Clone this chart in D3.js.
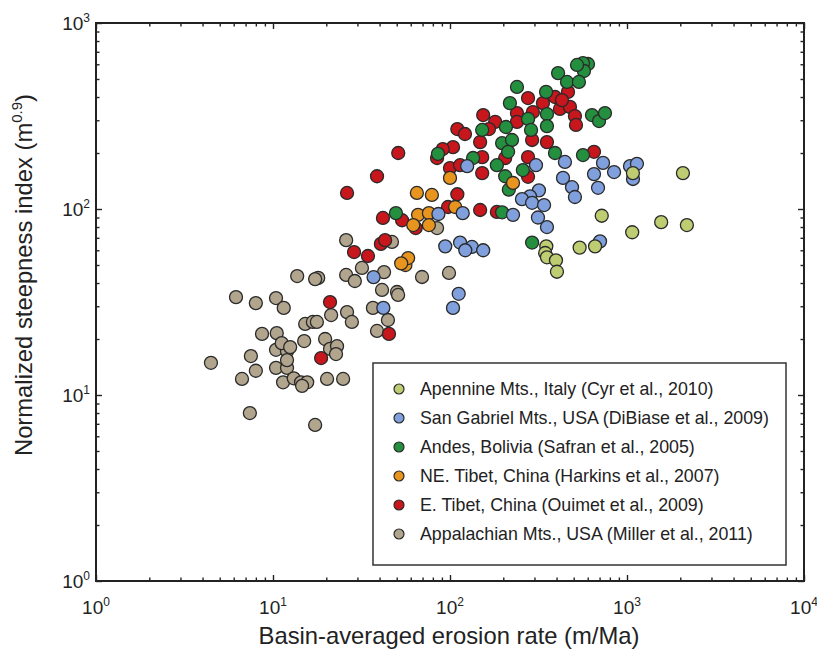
<!DOCTYPE html>
<html>
<head>
<meta charset="utf-8">
<script src="https://cdn.jsdelivr.net/npm/d3@7"></script>
<style>
  body { margin: 0; background: #fff; }
  svg { display: block; font-family: "Liberation Sans", Arial, sans-serif; }
</style>
</head>
<body>
<svg id="chart" width="817" height="651"></svg>
<script>
// Basin-averaged erosion rate (m/Ma) vs normalized steepness index (m^0.9)
const apennine = [
  [1080,156],[2070,156],[720,92],[1070,75],[1560,85],[2180,82],[350,63],
  [540,62],[660,63],[345,58],[353,55],[397,53],[402,46]
];
const sanGabriel = [
  [446,179],[732,177],[651,154],[845,158],[686,130],[435,147],[489,131],
  [508,116],[1040,170],[1138,175],[1081,145],[318,126],[283,117],[255,113],
  [291,108],[340,105],[227,93],[314,90],[353,80],[306,172],[125,170],
  [704,67],[86,94],[118,95],[94,63],[114,66],[133,62.5],[154,60],[122,60],
  [112,35],[104,29.4],[37,43],[42,29.4]
];
const andes = [
  [602,602],[564,609],[571,552],[522,595],[408,538],[458,482],[535,482],
  [349,426],[239,453],[218,371],[353,324],[276,305],[353,279],[207,276],
  [152,266],[287,266],[197,226],[224,235],[213,203],[392,200],[564,195],
  [634,320],[695,297],[751,328],[135,188],[85.5,198],[184,172],[205,150],
  [258,162],[215,127],[197,96],[291,66],[49.5,95]
];
const neTibet = [
  [65,122],[79,119],[100,147],[66,93],[76,95],[62,82],[76,82],[107,102.5],
  [56,50],[58,54.5],[53,51],[227,138]
];
const eTibet = [
  [51,200],[38.7,150],[26.2,122],[41.8,89.5],[53.6,87],[40.7,64.9],[43,68],
  [28.7,58.7],[34.4,55.9],[21,31.6],[45.2,21.3],[18.7,15.8],[110,120],
  [97.5,102.5],[148,98.8],[184,96.4],[104,215],[91,210],[84.5,188],[152,156],
  [152,190],[100,166],[114,172],[154,320],[110,269],[121.5,253],[276,395],
  [239,328],[180,294],[166,269],[239,294],[148,229],[294,332],[335,371],
  [392,400],[464,426],[418,345],[476,354],[508,316],[515,283],[291,235],
  [353,229],[276,190],[205,188],[651,203],[276,149],[429,385],[64,79]
];
const appalachian = [
  [25.9,68],[47,66.5],[13.7,43.6],[18,42.6],[17.3,42],[25.9,44.2],[29,41],
  [31.8,48.2],[42.4,45.8],[6.18,33.6],[8.0,31.2],[10.4,33.2],[11.5,29.4],
  [41.3,36.7],[50.2,35.8],[50.9,34.5],[36.7,29.4],[21.3,26.9],[26.2,27.9],
  [27.9,24.7],[15.2,24.1],[16.8,24.7],[17.7,24.7],[44.6,25.3],[38.7,22.1],
  [8.67,21.3],[10.5,21.5],[15.0,19.5],[19.7,20.0],[10.4,17.5],[12.0,17.2],
  [11.2,19.0],[12.5,18.1],[21,17.7],[23,18.3],[22.7,16.6],[7.5,16.2],
  [4.46,14.9],[8.0,13.5],[10.4,14.0],[12.0,14.0],[6.68,12.2],[11.4,11.7],
  [13.1,12.3],[14.4,11.7],[15.6,11.7],[14.6,11.2],[20.2,12.2],[24.9,12.2],
  [7.4,8.0],[17.3,6.9],[12.0,15.4],[84.5,79],[98.7,45.3],[69.5,43.1]
];

const legendNames = [
  "Apennine Mts., Italy (Cyr et al., 2010)",
  "San Gabriel Mts., USA (DiBiase et al., 2009)",
  "Andes, Bolivia (Safran et al., 2005)",
  "NE. Tibet, China (Harkins et al., 2007)",
  "E. Tibet, China (Ouimet et al., 2009)",
  "Appalachian Mts., USA (Miller et al., 2011)"
];
const legendData = [apennine, sanGabriel, andes, neTibet, eTibet, appalachian];
const colors = ["#bfcd72", "#7f9fdd", "#24903f", "#e8951f", "#c8161d", "#b2a58e"];
// drawing order (index into legend lists), back to front
const drawOrder = [5, 4, 2, 3, 1, 0];

const xMajor = [1, 10, 100, 1000, 10000];
const yMajor = [1, 10, 100, 1000];
const xTitle = "Basin-averaged erosion rate (m/Ma)";

const svg = d3.select("#chart");
const x = d3.scaleLog().domain([1, 1e4]).range([96, 804]);
const y = d3.scaleLog().domain([1, 1e3]).range([581, 23]);

const xMinor = x.ticks().filter(v => !xMajor.includes(v));
const yMinor = y.ticks().filter(v => !yMajor.includes(v));

// inward ticks on all four sides
function styleAxis(g) {
  g.select(".domain").remove();
  g.selectAll(".tick line").attr("stroke", "#222").attr("stroke-width", 1.4);
}
const axes = svg.append("g");
[[xMinor, 3.5], [xMajor, 6]].forEach(([vals, len]) => {
  axes.append("g").attr("transform", "translate(0,581)")
    .call(d3.axisTop(x).tickValues(vals).tickSize(len).tickFormat(""))
    .call(styleAxis);
  axes.append("g").attr("transform", "translate(0,23)")
    .call(d3.axisBottom(x).tickValues(vals).tickSize(len).tickFormat(""))
    .call(styleAxis);
});
[[yMinor, 3.5], [yMajor, 6]].forEach(([vals, len]) => {
  axes.append("g").attr("transform", "translate(96,0)")
    .call(d3.axisRight(y).tickValues(vals).tickSize(len).tickFormat(""))
    .call(styleAxis);
  axes.append("g").attr("transform", "translate(804,0)")
    .call(d3.axisLeft(y).tickValues(vals).tickSize(len).tickFormat(""))
    .call(styleAxis);
});

// frame
svg.append("rect")
  .attr("x", x(1)).attr("y", y(1e3))
  .attr("width", x(1e4) - x(1)).attr("height", y(1) - y(1e3))
  .attr("fill", "none").attr("stroke", "#222").attr("stroke-width", 2);

// power-of-ten tick labels
function powerLabel(sel, v) {
  sel.append("tspan").text("10");
  sel.append("tspan").attr("font-size", 12).attr("dy", -8)
    .text(Math.round(Math.log10(v)));
}
svg.append("g").selectAll("text").data(xMajor).join("text")
  .attr("x", d => x(d)).attr("y", 614)
  .attr("text-anchor", "middle").attr("font-size", 19).attr("fill", "#222")
  .each(function(d) { powerLabel(d3.select(this), d); });
svg.append("g").selectAll("text").data(yMajor).join("text")
  .attr("x", 90).attr("y", d => y(d) + 7)
  .attr("text-anchor", "end").attr("font-size", 19).attr("fill", "#222")
  .each(function(d) { powerLabel(d3.select(this), d); });

// axis titles
svg.append("text")
  .attr("x", 449).attr("y", 644).attr("text-anchor", "middle")
  .attr("font-size", 23.8).attr("fill", "#222").text(xTitle);
const yt = svg.append("text")
  .attr("transform", "translate(32,275) rotate(-90)")
  .attr("text-anchor", "middle").attr("font-size", 23.8).attr("fill", "#222");
yt.append("tspan").text("Normalized steepness index (m");
yt.append("tspan").attr("font-size", 15).attr("dy", -10).text("0.9");
yt.append("tspan").attr("dy", 10).text(")");

// data points
const pts = svg.append("g");
drawOrder.forEach(i => {
  pts.append("g").selectAll("circle").data(legendData[i]).join("circle")
    .attr("cx", d => x(d[0])).attr("cy", d => y(d[1])).attr("r", 6.5)
    .attr("fill", colors[i]).attr("stroke", "#2a2a2a").attr("stroke-width", 1.3);
});

// legend
const lg = svg.append("g");
lg.append("rect").attr("x", 373).attr("y", 363).attr("width", 413).attr("height", 202)
  .attr("fill", "#fff").attr("stroke", "#333").attr("stroke-width", 1.5);
const items = lg.selectAll("g.item").data(legendNames).join("g")
  .attr("class", "item")
  .attr("transform", (d, i) => `translate(399,${389 + i * 29})`);
items.append("circle").attr("r", 5)
  .attr("fill", (d, i) => colors[i]).attr("stroke", "#2a2a2a").attr("stroke-width", 1.2);
items.append("text").attr("x", 21).attr("dy", "0.36em")
  .attr("font-size", 17.8).attr("fill", "#222").text(d => d);
</script>
</body>
</html>
